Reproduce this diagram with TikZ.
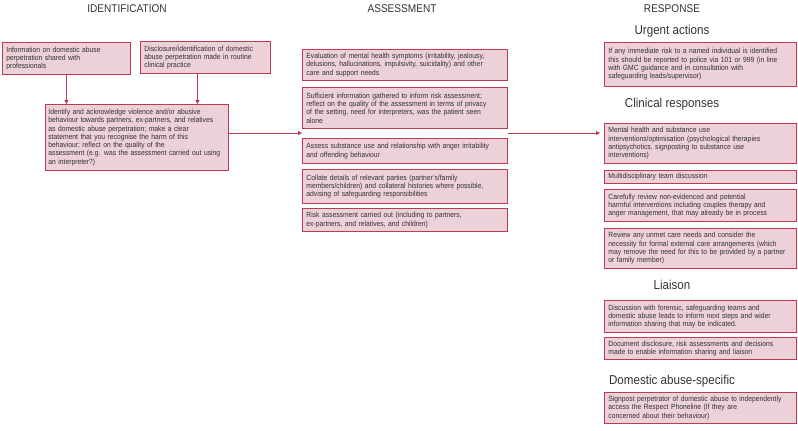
\documentclass[tikz,border=0pt]{standalone}
\usepackage{fontspec}
\setmainfont[FakeStretch=0.9]{Liberation Sans}
\usetikzlibrary{arrows.meta}
\definecolor{boxfill}{RGB}{236,209,216}
\definecolor{boxline}{RGB}{190,58,82}
\definecolor{txt}{RGB}{50,50,50}
\hyphenpenalty=10000
\newcommand\mybodyfont{\fontsize{7.5}{8.3}\selectfont\hyphenpenalty=10000\relax}
\tikzset{
  box/.style={draw=boxline, fill=boxfill, line width=0.9pt, anchor=north west,
    inner xsep=4pt, inner ysep=1.5pt, align=left, text=txt,
    font=\mybodyfont},
  coltitle/.style={text=txt, font=\fontsize{11.2}{13}\selectfont, inner sep=0pt},
  subtitle/.style={text=txt, font=\fontsize{12.9}{14}\selectfont, inner sep=0pt},
  arr/.style={draw=boxline, line width=0.9pt, -{Triangle[width=4pt,length=4pt]}},
}
\begin{document}
\begin{tikzpicture}[x=1pt,y=-1pt]
\useasboundingbox (0,0) rectangle (798,431);
% titles
\node[coltitle] (tid) at (127,9) {IDENTIFICATION};
\node[coltitle] (tas) at (402,9) {ASSESSMENT};
\node[coltitle] (tre) at (672,9) {RESPONSE};
\node[subtitle] (sur) at (672,31) {Urgent actions};
\node[subtitle] (scl) at (672,104) {Clinical responses};
\node[subtitle] (sli) at (672,285) {Liaison};
\node[subtitle] (sda) at (672,381) {Domestic abuse-specific};
% identification
\node[box, text width=120pt, minimum height=32pt] (A) at (2,42)
 {Information on domestic abuse\\perpetration shared with\\professionals};
\node[box, text width=122pt, minimum height=32pt] (B) at (140,41)
 {Disclosure/identification of domestic\\abuse perpetration made in routine\\clinical practice};
\node[box, inner xsep=3pt, text width=177pt, minimum height=66pt] (C) at (45,104)
 {Identify and acknowledge violence and/or abusive\\behaviour towards partners, ex-partners, and relatives\\as domestic abuse perpetration; make a clear\\statement that you recognise the harm of this\\behaviour; reflect on the quality of the\\assessment (e.g. was the assessment carried out using\\an interpreter?)};
% assessment
\node[box, text width=197pt, minimum height=31pt] (E1) at (302,49)
 {Evaluation of mental health symptoms (irritability, jealousy,\\delusions, hallucinations, impulsivity, suicidality) and other\\care and support needs};
\node[box, text width=197pt, minimum height=41pt] (E2) at (302,87)
 {Sufficient information gathered to inform risk assessment;\\reflect on the quality of the assessment in terms of privacy\\of the setting, need for interpreters, was the patient seen\\alone};
\node[box, text width=197pt, minimum height=25pt] (E3) at (302,138)
 {Assess substance use and relationship with anger irritability\\and offending behaviour};
\node[box, text width=197pt, minimum height=34pt] (E4) at (302,169)
 {Collate details of relevant parties (partner's/family\\members/children) and collateral histories where possible,\\advising of safeguarding responsibilities};
\node[box, text width=197pt, minimum height=23pt] (E5) at (302,208)
 {Risk assessment carried out (including to partners,\\ex-partners, and relatives, and children)};
% response
\node[box, text width=184pt, minimum height=44pt] (R1) at (604,42)
 {If any immediate risk to a named individual is identified\\this should be reported to police via 101 or 999 (in line\\with GMC guidance and in consultation with\\safeguarding leads/supervisor)};
\node[box, text width=184pt, minimum height=40pt] (R2) at (604,123)
 {Mental health and substance use\\interventions/optimisation (psychological therapies\\antipsychotics, signposting to substance use\\interventions)};
\node[box, text width=184pt, minimum height=13pt] (R3) at (604,170)
 {Multidisciplinary team discussion};
\node[box, text width=184pt, minimum height=32pt] (R4) at (604,189)
 {Carefully review non-evidenced and potential\\harmful interventions including couples therapy and\\anger management, that may already be in process};
\node[box, text width=184pt, minimum height=40pt] (R5) at (604,228)
 {Review any unmet care needs and consider the\\necessity for formal external care arrangements (which\\may remove the need for this to be provided by a partner\\or family member)};
\node[box, text width=184pt, minimum height=32pt] (R6) at (604,300)
 {Discussion with forensic, safeguarding teams and\\domestic abuse leads to inform next steps and wider\\information sharing that may be indicated.};
\node[box, text width=184pt, minimum height=22pt] (R7) at (604,337)
 {Document disclosure, risk assessments and decisions\\made to enable information sharing and liaison};
\node[box, text width=184pt, minimum height=31pt] (R8) at (604,392)
 {Signpost perpetrator of domestic abuse to independently\\access the Respect Phoneline (If they are\\concerned about their behaviour)};
% connectors
\coordinate (ain) at (302,133);
\coordinate (aout) at (508,133);
\draw[arr] (A.south) -- (A.south |- C.north);
\draw[arr] ([xshift=-8pt]B.south) -- ([xshift=-8pt]B.south |- C.north);
\draw[arr] (C.east |- ain) -- (ain);
\draw[arr] (aout) -- ([xshift=-4pt]R2.west |- aout);
\end{tikzpicture}
\end{document}
